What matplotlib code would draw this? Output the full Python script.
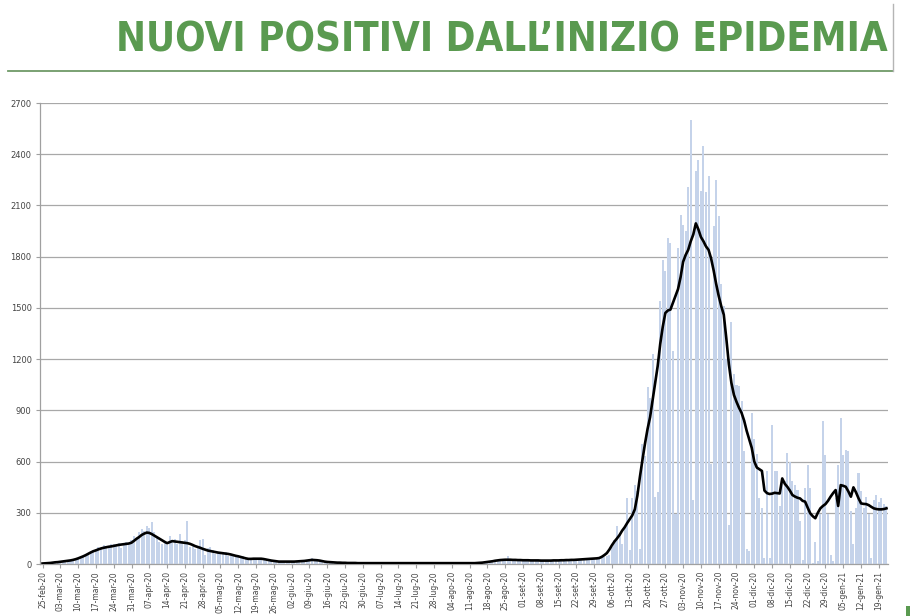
import matplotlib
matplotlib.use('Agg')
import matplotlib.pyplot as plt
import numpy as np
import pandas as pd
from matplotlib import font_manager as fm
from matplotlib.lines import Line2D
from matplotlib.patches import Rectangle

# ---------------- data ----------------
start_date = '2020-02-25'
title = 'NUOVI POSITIVI DALL\u2019INIZIO EPIDEMIA'
mesi = ['gen', 'feb', 'mar', 'apr', 'mag', 'giu', 'lug', 'ago', 'set', 'ott', 'nov', 'dic']
y_ticks = [0, 300, 600, 900, 1200, 1500, 1800, 2100, 2400, 2700]

# daily new positives (bars), one row per week
bars = [
    0, 0, 2, 3, 5, 8, 6,
    10, 12, 14, 18, 20, 22, 28,
    30, 40, 45, 55, 60, 72, 80,
    85, 100, 92, 110, 105, 98, 115,
    120, 108, 125, 95, 118, 130, 112,
    140, 165, 150, 185, 205, 195, 225,
    210, 245, 190, 160, 130, 115, 125,
    110, 165, 130, 145, 120, 175, 135,
    140, 250, 100, 120, 90, 105, 140,
    145, 50, 95, 100, 80, 60, 70,
    65, 60, 70, 45, 55, 60, 50,
    40, 35, 45, 30, 30, 28, 32,
    30, 35, 28, 25, 20, 18, 15,
    12, 14, 10, 15, 12, 16, 14,
    12, 15, 18, 14, 20, 22, 25,
    30, 35, 25, 28, 20, 18, 15,
    12, 10, 8, 10, 6, 8, 5,
    6, 4, 5, 7, 5, 4, 6,
    4, 5, 3, 6, 5, 4, 5,
    6, 4, 5, 3, 5, 6, 4,
    5, 4, 6, 5, 3, 5, 6,
    4, 5, 5, 6, 4, 5, 3,
    5, 6, 4, 5, 6, 4, 5,
    6, 5, 4, 7, 5, 6, 5,
    6, 8, 7, 9, 10, 12, 11,
    14, 15, 18, 20, 22, 25, 28,
    30, 45, 25, 22, 20, 24, 18,
    22, 20, 18, 24, 22, 20, 19,
    18, 22, 20, 21, 19, 23, 20,
    22, 24, 20, 25, 23, 26, 24,
    26, 28, 25, 30, 32, 28, 30,
    32, 35, 30, 38, 40, 45, 50,
    100, 140, 220, 180, 120, 210, 385,
    80, 385, 460, 430, 85, 705, 630,
    1035, 975, 1230, 395, 420, 1540, 1780,
    1715, 1910, 1880, 1250, 295, 1850, 2045,
    1985, 1950, 2210, 2600, 375, 2300, 2365,
    2185, 2450, 2180, 2270, 585, 1980, 2250,
    2040, 1640, 1510, 1200, 230, 1420, 1110,
    1050, 1040, 955, 660, 85, 75, 885,
    735, 645, 385, 330, 35, 545, 35,
    815, 545, 545, 340, 475, 485, 650,
    600, 485, 465, 435, 250, 25, 445,
    580, 445, 5, 130, 15, 290, 835,
    640, 290, 55, 20, 385, 580, 855,
    640, 670, 660, 310, 115, 330, 535,
    425, 330, 395, 290, 35, 375, 405,
    365, 385, 350, 340,
]

# moving average line (daily), ten values per row
media_mobile = [
    3, 4, 5, 6, 8, 10, 11, 13, 15, 17,
    19, 21, 24, 28, 33, 39, 45, 52, 60, 68,
    75, 80, 86, 91, 95, 98, 101, 103, 106, 109,
    112, 114, 116, 118, 120, 125, 136, 148, 158, 170,
    178, 184, 182, 175, 166, 157, 148, 139, 130, 122,
    128, 134, 132, 130, 128, 126, 124, 122, 118, 112,
    105, 100, 95, 89, 84, 79, 76, 73, 70, 67,
    65, 63, 61, 59, 56, 52, 48, 45, 41, 37,
    33, 30, 30, 31, 31, 31, 31, 29, 26, 23,
    20, 18, 16, 14, 14, 14, 14, 14, 14, 14,
    15, 16, 17, 18, 20, 22, 24, 23, 22, 20,
    17, 14, 12, 11, 10, 9, 8, 8, 7, 7,
    6, 6, 6, 6, 5, 5, 5, 5, 5, 5,
    5, 5, 5, 5, 5, 5, 5, 5, 5, 5,
    5, 5, 5, 5, 5, 5, 5, 5, 5, 5,
    5, 5, 5, 5, 5, 5, 5, 5, 5, 5,
    5, 5, 5, 5, 5, 5, 5, 5, 5, 5,
    5, 6, 7, 8, 10, 12, 14, 16, 19, 21,
    23, 24, 25, 25, 25, 24, 24, 23, 23, 22,
    22, 22, 21, 21, 21, 21, 20, 20, 20, 20,
    20, 21, 21, 21, 22, 22, 23, 23, 24, 24,
    25, 26, 27, 28, 29, 30, 31, 32, 33, 35,
    42, 52, 64, 85, 110, 132, 150, 170, 195, 215,
    240, 262, 285, 320, 400, 510, 610, 705, 790, 860,
    960, 1060, 1160, 1290, 1390, 1470, 1485, 1490, 1530, 1570,
    1610, 1680, 1770, 1810, 1840, 1890, 1930, 1995, 1960, 1915,
    1890, 1860, 1840, 1790, 1720, 1640, 1570, 1510, 1460, 1320,
    1170, 1060, 990, 950, 915, 885, 840, 780, 730, 680,
    600, 565, 555, 545, 430, 415, 410, 412, 417, 415,
    413, 501, 470, 452, 430, 404, 395, 388, 384, 370,
    365, 330, 297, 280, 268, 300, 326, 340, 351, 370,
    394, 415, 433, 340, 462, 458, 452, 425, 394, 449,
    420, 385, 355, 352, 351, 345, 335, 326, 322, 320,
    320, 322, 326,
]

# ---------------- derived ----------------
dates = pd.date_range(start_date, periods=len(bars), freq='D')
x = np.arange(len(bars))
tick_idx = x[::7]
tick_labels = [f"{d.day:02d}-{mesi[d.month - 1]}-{d.strftime('%y')}" for d in dates[tick_idx]]

W, H = 916, 616
fig = plt.figure(figsize=(W / 100, H / 100), dpi=100)
fig.patch.set_facecolor('white')

ax = fig.add_axes([40 / W, 1 - 564 / H, 848 / W, 461 / H])
ax.bar(x, bars, width=0.8, color='#c5d3ea', linewidth=0, zorder=2)
ax.plot(x, media_mobile, color='black', lw=1.9, solid_joinstyle='round', zorder=3)

ax.set_ylim(0, 2700)
ax.set_xlim(-1, len(bars) - 0.4)
ax.set_yticks(y_ticks)
ax.set_yticklabels([str(v) for v in y_ticks])
ax.set_xticks(tick_idx)
ax.set_xticklabels(tick_labels, rotation=90)
ax.yaxis.grid(True, color='#a8a8a8', lw=0.9, zorder=1)
ax.set_axisbelow(True)
for s in ['top', 'right']:
    ax.spines[s].set_visible(False)
for s in ['left', 'bottom']:
    ax.spines[s].set_color('#a0a0a0')
    ax.spines[s].set_linewidth(0.9)
ax.tick_params(axis='y', length=3, color='#a0a0a0', labelsize=6, pad=3, labelcolor='#444444')
ax.tick_params(axis='x', length=3, color='#a0a0a0', labelsize=5.5, pad=2, labelcolor='#444444')

# ---------------- title ----------------
names = {f.name for f in fm.fontManager.ttflist}
if 'Liberation Sans Narrow' in names:
    fam, stretch = 'Liberation Sans Narrow', 'normal'
else:
    fam, stretch = 'DejaVu Sans', 'condensed'

t = fig.text(888 / W, 1 - 51 / H, title, ha='right', va='baseline',
             fontsize=36, fontweight='bold', family=fam, fontstretch=stretch,
             color='#5a9a50')
fig.canvas.draw()
r = fig.canvas.get_renderer()
bb = t.get_window_extent(r)
target_w = 888 - 113
fs = 36 * target_w / bb.width
fs = min(fs, 38)
t.set_fontsize(fs)

fig.add_artist(Line2D([8 / W, 893 / W], [1 - 71 / H, 1 - 71 / H], color='#6f9a68', lw=1.3))
fig.add_artist(Line2D([893 / W, 893 / W], [1 - 4 / H, 1 - 71 / H], color='#b5b5b5', lw=1.0))
fig.add_artist(Rectangle((906 / W, 0), 4 / W, 10 / H, transform=fig.transFigure,
                         color='#5a9a50', lw=0))

fig.savefig('out.png', dpi=100)
